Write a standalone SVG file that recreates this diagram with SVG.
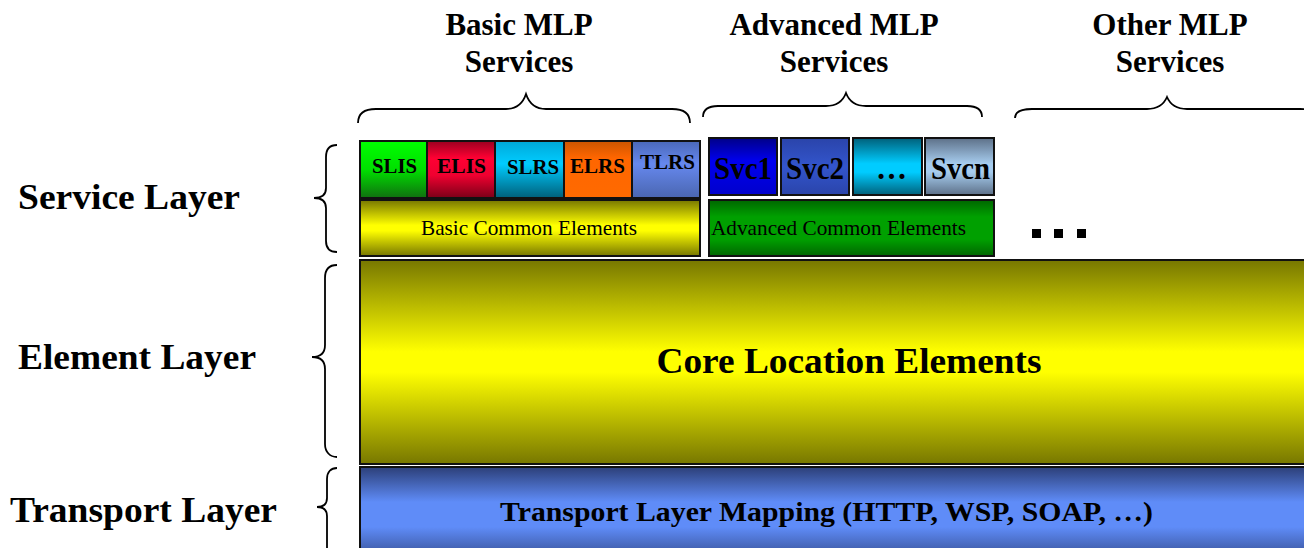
<svg xmlns="http://www.w3.org/2000/svg" width="1304" height="548" viewBox="0 0 1304 548">
<defs>
<linearGradient id="gYel" x1="0" y1="0" x2="0" y2="1"><stop offset="0" stop-color="#777700"/><stop offset="0.45" stop-color="#ffff00"/><stop offset="0.55" stop-color="#ffff00"/><stop offset="1" stop-color="#777700"/></linearGradient>
<linearGradient id="gBlue" x1="0" y1="0" x2="0" y2="1"><stop offset="0" stop-color="#2c3f78"/><stop offset="0.35" stop-color="#5f8cf8"/><stop offset="0.6" stop-color="#5f8cf8"/><stop offset="1" stop-color="#2c3f78"/></linearGradient>
<linearGradient id="gGreen" x1="0" y1="0" x2="0" y2="1"><stop offset="0" stop-color="#00ff00"/><stop offset="0.5" stop-color="#00e000"/><stop offset="1" stop-color="#107010"/></linearGradient>
<linearGradient id="gRed" x1="0" y1="0" x2="0" y2="1"><stop offset="0" stop-color="#9a0020"/><stop offset="0.3" stop-color="#ff0033"/><stop offset="0.6" stop-color="#f00030"/><stop offset="1" stop-color="#7a0018"/></linearGradient>
<linearGradient id="gCyan" x1="0" y1="0" x2="0" y2="1"><stop offset="0" stop-color="#00a8d8"/><stop offset="0.4" stop-color="#00ccff"/><stop offset="1" stop-color="#005f7a"/></linearGradient>
<linearGradient id="gOrange" x1="0" y1="0" x2="0" y2="1"><stop offset="0" stop-color="#cc5500"/><stop offset="0.3" stop-color="#ff6600"/><stop offset="1" stop-color="#ff6a00"/></linearGradient>
<linearGradient id="gTlrs" x1="0" y1="0" x2="0" y2="1"><stop offset="0" stop-color="#4a68b8"/><stop offset="0.4" stop-color="#6688ee"/><stop offset="1" stop-color="#4a66b0"/></linearGradient>
<linearGradient id="gAdvGreen" x1="0" y1="0" x2="0" y2="1"><stop offset="0" stop-color="#006600"/><stop offset="0.3" stop-color="#00a000"/><stop offset="0.7" stop-color="#00a000"/><stop offset="1" stop-color="#006600"/></linearGradient>
<linearGradient id="gSvc1" x1="0" y1="0" x2="0" y2="1"><stop offset="0" stop-color="#000088"/><stop offset="0.4" stop-color="#0000ee"/><stop offset="1" stop-color="#0000cc"/></linearGradient>
<linearGradient id="gSvc2" x1="0" y1="0" x2="0" y2="1"><stop offset="0" stop-color="#2a44aa"/><stop offset="0.5" stop-color="#3355cc"/><stop offset="1" stop-color="#2a44aa"/></linearGradient>
<linearGradient id="gSvc3" x1="0" y1="0" x2="0" y2="1"><stop offset="0" stop-color="#00607a"/><stop offset="0.45" stop-color="#00ccff"/><stop offset="0.6" stop-color="#00ccff"/><stop offset="1" stop-color="#00607a"/></linearGradient>
<linearGradient id="gSvcn" x1="0" y1="0" x2="0" y2="1"><stop offset="0" stop-color="#5d7088"/><stop offset="0.45" stop-color="#a6ccee"/><stop offset="0.6" stop-color="#a6ccee"/><stop offset="1" stop-color="#5d7088"/></linearGradient>
</defs>
<style>
.box{stroke:#111;stroke-width:2}
.brace{fill:none;stroke:#000;stroke-width:1.8}
.title{font-family:"Liberation Serif","Times New Roman",serif;font-weight:bold;font-size:31px;text-anchor:middle;fill:#000}
.layer{font-family:"Liberation Serif","Times New Roman",serif;font-weight:bold;font-size:36px;fill:#000}
.tl{font-family:"Liberation Serif","Times New Roman",serif;font-weight:bold;font-size:28px;fill:#000}
.sm{font-family:"Liberation Serif","Times New Roman",serif;font-weight:bold;font-size:21px;fill:#000}
.svc{font-family:"Liberation Serif","Times New Roman",serif;font-weight:bold;font-size:32px;fill:#000}
.common{font-family:"Liberation Serif","Times New Roman",serif;font-size:21px;fill:#000}
</style>
<rect width="1304" height="548" fill="#fff"/>

<g id="titles">
<text class="title" x="519" y="35">Basic MLP</text>
<text class="title" x="519" y="72">Services</text>
<text class="title" x="834" y="35">Advanced MLP</text>
<text class="title" x="834" y="72">Services</text>
<text class="title" x="1170" y="35">Other MLP</text>
<text class="title" x="1170" y="72">Services</text>
</g>

<g id="layer-labels">
<text class="layer" x="18" y="209" textLength="222" lengthAdjust="spacingAndGlyphs">Service Layer</text>
<text class="layer" x="18" y="369" textLength="238" lengthAdjust="spacingAndGlyphs">Element Layer</text>
<text class="layer" x="10" y="522" textLength="267" lengthAdjust="spacingAndGlyphs">Transport Layer</text>
</g>

<g id="braces">
<path class="brace" d="M358,123 C358,113 364,109 376,109 L506,109 C517,109 523,103 526,94 C529,103 535,109 546,109 L672,109 C684,109 690,113 690,123"/>
<path class="brace" d="M703,117 C703,110 708,106 718,106 L826,106 C837,106 843,101 846,93 C849,101 855,106 866,106 L967,106 C977,106 982,110 982,117"/>
<path class="brace" d="M1015,118 C1015,112 1021,109 1032,109 L1147,109 C1158,109 1164,104 1167,97 C1170,104 1176,109 1187,109 L1300,109 C1312,109 1318,113 1318,120"/>
<path class="brace" d="M337,145 C330,145 326,149 326,157 L326,188 C326,195 321,198 314,198 C321,198 326,201 326,208 L326,241 C326,248 330,252 337,252"/>
<path class="brace" d="M337,265 C330,265 325,269 325,278 L325,345 C325,353 320,357 312,357 C320,357 325,361 325,369 L325,444 C325,452 330,457 337,457"/>
<path class="brace" d="M337,468 C331,468 327,472 327,479 L327,498 C327,504 323,507 317,507 C323,507 327,510 327,516 L327,560"/>
</g>

<g id="basic-services">
<rect class="box" x="360" y="141" width="67" height="57" fill="url(#gGreen)"/>
<text class="sm" x="372" y="173" textLength="45" lengthAdjust="spacingAndGlyphs">SLIS</text>
<rect class="box" x="427" y="141" width="68" height="57" fill="url(#gRed)"/>
<text class="sm" x="437" y="173" textLength="49" lengthAdjust="spacingAndGlyphs">ELIS</text>
<rect class="box" x="495" y="141" width="69" height="57" fill="url(#gCyan)"/>
<text class="sm" x="507" y="174" textLength="52" lengthAdjust="spacingAndGlyphs">SLRS</text>
<rect class="box" x="564" y="141" width="68" height="57" fill="url(#gOrange)"/>
<text class="sm" x="570" y="173" textLength="55" lengthAdjust="spacingAndGlyphs">ELRS</text>
<rect class="box" x="632" y="141" width="68" height="57" fill="url(#gTlrs)"/>
<text class="sm" x="640" y="169" textLength="55" lengthAdjust="spacingAndGlyphs">TLRS</text>
</g>

<g id="basic-common">
<rect class="box" x="360" y="200" width="340" height="56" fill="url(#gYel)"/>
<text class="common" x="421" y="235" textLength="216" lengthAdjust="spacingAndGlyphs">Basic Common Elements</text>
</g>

<g id="advanced-services">
<rect class="box" x="709" y="138" width="68" height="57" fill="url(#gSvc1)"/>
<text class="svc" x="714" y="179" textLength="58" lengthAdjust="spacingAndGlyphs">Svc1</text>
<rect class="box" x="781" y="138" width="68" height="57" fill="url(#gSvc2)"/>
<text class="svc" x="786" y="179" textLength="58" lengthAdjust="spacingAndGlyphs">Svc2</text>
<rect class="box" x="853" y="138" width="69" height="57" fill="url(#gSvc3)"/>
<text class="svc" x="876" y="179" textLength="31" lengthAdjust="spacingAndGlyphs">…</text>
<rect class="box" x="925" y="138" width="69" height="57" fill="url(#gSvcn)"/>
<text class="svc" x="931" y="179" textLength="59" lengthAdjust="spacingAndGlyphs">Svcn</text>
</g>

<g id="advanced-common">
<rect class="box" x="709" y="200" width="285" height="56" fill="url(#gAdvGreen)"/>
<text class="common" x="711" y="235" textLength="255" lengthAdjust="spacingAndGlyphs">Advanced Common Elements</text>
</g>

<g id="other-services">
<rect x="1032" y="229" width="9" height="9" fill="#000"/>
<rect x="1054" y="229" width="9" height="9" fill="#000"/>
<rect x="1077" y="229" width="9" height="9" fill="#000"/>
</g>

<g id="core-location">
<rect class="box" x="360" y="260" width="960" height="204" fill="url(#gYel)"/>
<text class="layer" x="849" y="373" text-anchor="middle" textLength="385" lengthAdjust="spacingAndGlyphs">Core Location Elements</text>
</g>

<g id="transport">
<rect class="box" x="360" y="467" width="960" height="100" fill="url(#gBlue)"/>
<text class="tl" x="500" y="521" textLength="653" lengthAdjust="spacingAndGlyphs">Transport Layer Mapping (HTTP, WSP, SOAP, …)</text>
</g>
</svg>
